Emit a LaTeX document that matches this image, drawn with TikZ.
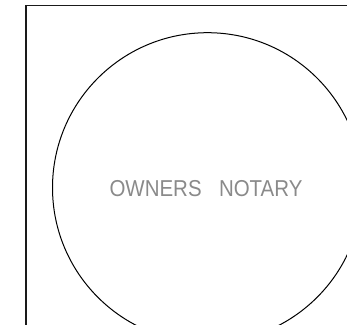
\documentclass[tikz,border=0pt]{standalone}
\usepackage{fontspec}
\setsansfont{Liberation Sans}
\definecolor{cFrame}{HTML}{1A1A1A}
\definecolor{cLabel}{HTML}{8A8A8A}

\begin{document}
\begin{tikzpicture}[
  x=1pt, y=-1pt,
  frame/.style={draw=cFrame, line width=1.1pt},
  seal/.style={draw=black, line width=1pt},
  stamp/.style={font=\sffamily\fontsize{23}{23}\selectfont, text=cLabel,
                inner sep=0pt, anchor=base},
]

% ---- page extent -------------------------------------------------------
\useasboundingbox (0,0) rectangle (347,324);
\clip (0,0) rectangle (347,324);

% ---- border of the block (runs off right and bottom) -------------------
\draw[frame] (26,340) -- (26,5.5) -- (360,5.5);

% ---- notary seal circle ------------------------------------------------
\draw[seal] (207.5,187.7) circle[radius=155];

\node[stamp] (notary) at (206,196.5)
  {\scalebox{0.89}[1]{OWNERS\hspace{19.5pt}NOTARY}};

\end{tikzpicture}
\end{document}
